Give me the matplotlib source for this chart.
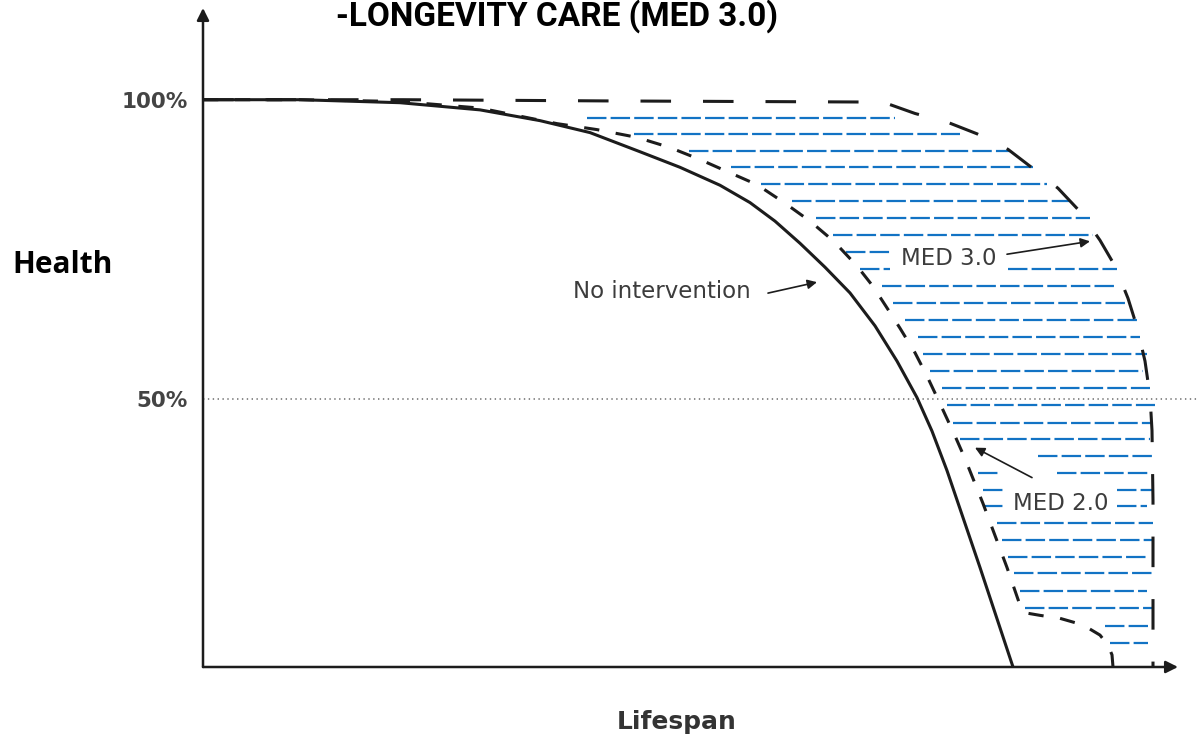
import numpy as np
import matplotlib
matplotlib.use('Agg')
import matplotlib.pyplot as plt

# ── Data (lifespan in arbitrary units, health in %) ──────────────────
none_x = [0, 97, 197, 277, 337, 387, 437, 477, 517, 547, 572, 597, 622, 647,
          672, 694, 714, 729, 744, 777, 810]
none_h = [100, 100, 99.5, 98.3, 96.5, 94.5, 91.3, 88.7, 85.7, 82.8, 79.7, 76.0,
          72.0, 67.7, 62.2, 56.3, 50.2, 44.6, 38.0, 21.8, 5.17]

med2_x = [0, 97, 197, 277, 354, 394, 434, 467, 497, 524, 554, 582, 607, 631,
          654, 670, 684, 697, 712, 724, 737, 752, 762, 780, 804, 817, 823, 837,
          857, 880, 897, 905, 909, 910]
med2_h = [100, 100, 99.7, 98.6, 96.0, 95.0, 93.7, 92.0, 90.0, 88.0, 85.8, 82.7,
          79.7, 76.3, 72.2, 68.8, 65.2, 61.8, 57.7, 53.8, 49.2, 43.8, 40.0, 32.5,
          21.8, 15.5, 14.2, 13.8, 13.3, 12.2, 10.5, 8.8, 7.2, 5.17]

med3_x = [0, 200, 400, 680, 712, 745, 774, 805, 830, 855, 877, 897, 912, 925,
          934, 942, 947, 949, 950, 950]
med3_h = [100, 100, 99.8, 99.6, 97.7, 96.2, 94.3, 91.7, 88.5, 85.2, 81.3, 76.5,
          72.2, 66.8, 62.0, 56.3, 50.5, 44.7, 33.0, 5.17]

# blue hatch segments between MED 2.0 and MED 3.0 (row level, start, end)
hatch_h = [97.0, 94.33, 91.5, 88.67, 85.83, 83.0, 80.17, 77.33, 74.5,
           71.67, 71.67, 68.83, 66.0, 63.17, 60.33, 57.5, 54.67, 51.83, 49.0,
           46.0, 43.33, 40.5, 37.67, 37.67, 34.83, 34.83, 32.0, 32.0, 29.17,
           26.33, 23.5, 20.83, 17.83, 15.0, 12.0, 9.17]
hatch_x0 = [384, 431, 486, 528, 558, 589, 613, 630, 643,
            657, 805, 679, 690, 702, 715, 720, 727, 739, 744,
            750, 757, 835, 775, 854, 780, 914, 780, 914, 794,
            799, 805, 811, 817, 822, 902, 907]
hatch_x1 = [692, 757, 807, 830, 844, 867, 887, 890, 687,
            687, 914, 915, 927, 934, 937, 944, 940, 947, 952,
            949, 947, 952, 795, 947, 802, 950, 802, 944, 950,
            949, 945, 952, 944, 949, 945, 945]

ref_level = 50
ytick_vals = [50, 100]
ytick_labels = ['50%', '100%']

labels = ['No intervention', 'MED 3.0', 'MED 2.0']
label_pos = [(459, 68.0), (746, 73.5), (858, 32.5)]
arrow_tail = [(565, 67.67), (804, 74.17), (829, 36.83)]
arrow_head = [(614, 69.5), (887, 76.33), (772, 41.83)]

# ── Style ────────────────────────────────────────────────────────────
plt.rcParams['lines.scale_dashes'] = False
INK = '#1c1c1c'
GREY = '#3c3c3c'
BLUE = '#1273c4'

fig = plt.figure(figsize=(11.99, 7.39), dpi=100)
ax = fig.add_axes([203/1199, 72/739, 975/1199, 659/739])
ax.set_xlim(0, 975)
ax.set_ylim(5.1667, 115.33)
for s in ax.spines.values():
    s.set_visible(False)
ax.set_xticks([])
ax.set_yticks(ytick_vals)
ax.set_yticklabels(ytick_labels, fontsize=15.5, fontweight='bold', color='#444444')
ax.tick_params(axis='y', length=0, pad=11)

# axes with arrow heads
ax.annotate('', xy=(1, 0), xytext=(0, 0), xycoords='axes fraction',
            arrowprops=dict(arrowstyle='-|>', lw=1.8, color=INK,
                            mutation_scale=18, shrinkA=0, shrinkB=0))
ax.annotate('', xy=(0, 1), xytext=(0, 0), xycoords='axes fraction',
            arrowprops=dict(arrowstyle='-|>', lw=1.8, color=INK,
                            mutation_scale=18, shrinkA=0, shrinkB=0))

# 50% reference
ax.plot([0, 996], [ref_level, ref_level], color='#8a8a8a', lw=1.4,
        ls=(0, (1, 2.5)), clip_on=False, zorder=1)

# hatch
for h, x0, x1 in zip(hatch_h, hatch_x0, hatch_x1):
    ax.plot([x0, x1], [h, h], color=BLUE, lw=1.6, ls=(0, (14, 3)), zorder=2)

# curves
ax.plot(none_x, none_h, color=INK, lw=2.2, zorder=4, solid_joinstyle='round')
ax.plot(med2_x, med2_h, color=INK, lw=2.2, ls=(0, (11, 12)), zorder=3)
ax.plot(med3_x, med3_h, color=INK, lw=2.2, ls=(0, (22, 23)), zorder=3)

# labels + arrows
for txt, pos, t, hd in zip(labels, label_pos, arrow_tail, arrow_head):
    ax.text(pos[0], pos[1], txt, ha='center', va='center', fontsize=16.5,
            color=GREY, zorder=6)
    ax.annotate('', xy=hd, xytext=t,
                arrowprops=dict(arrowstyle='-|>', lw=1.2, color=INK,
                                mutation_scale=14, shrinkA=0, shrinkB=0))

fig.text(12/1199, 1 - 265/739, 'Health', ha='left', va='center',
         fontsize=21.5, fontweight='bold', family='Open Sans', color='black')
fig.text(677/1199, 1 - 722/739, 'Lifespan', ha='center', va='center',
         fontsize=18, fontweight='bold', color='#333333')
fig.text(557/1199, 1 - 26/739, '-LONGEVITY CARE (MED 3.0)', ha='center',
         va='baseline', fontsize=24, fontweight='bold', family='Roboto',
         color='black')

fig.savefig('out.png', dpi=100)
